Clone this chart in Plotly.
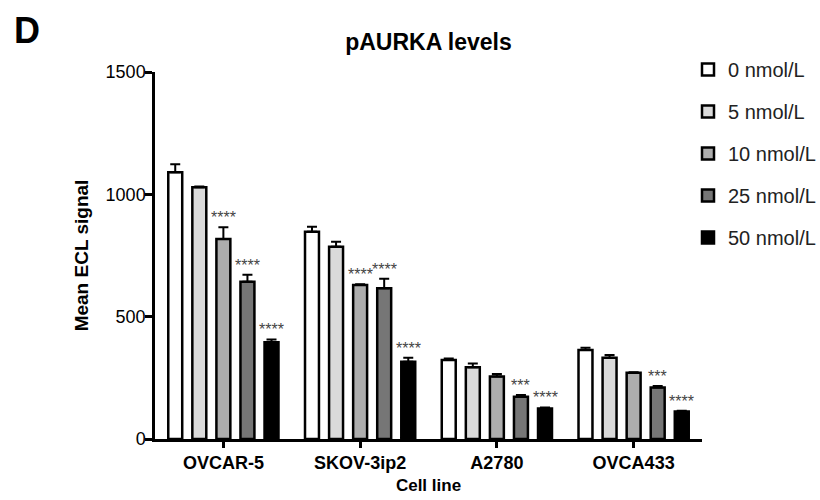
import plotly.graph_objects as go

cell_lines = ["OVCAR-5", "SKOV-3ip2", "A2780", "OVCA433"]
doses = ["0 nmol/L", "5 nmol/L", "10 nmol/L", "25 nmol/L", "50 nmol/L"]

mean_0 = [1090, 847, 323, 364]
mean_5 = [1029, 786, 293, 332]
mean_10 = [817, 629, 255, 271]
mean_25 = [643, 616, 173, 211]
mean_50 = [395, 316, 125, 112]

sem_0 = [33, 21, 6, 9]
sem_5 = [3, 20, 16, 11]
sem_10 = [48, 3, 11, 2]
sem_25 = [28, 39, 7, 6]
sem_50 = [12, 16, 4, 3]

stars_0 = ["", "", "", ""]
stars_5 = ["", "", "", ""]
stars_10 = ["****", "****", "", ""]
stars_25 = ["****", "****", "***", "***"]
stars_50 = ["****", "****", "****", "****"]

means = [mean_0, mean_5, mean_10, mean_25, mean_50]
sems = [sem_0, sem_5, sem_10, sem_25, sem_50]
stars = [stars_0, stars_5, stars_10, stars_25, stars_50]
colors = ["#ffffff", "#dadada", "#adadad", "#767676", "#000000"]

W, H = 820, 500
ML, MR, MT, MB = 155, 118, 72, 61
BARGAP = 0.12
GROUPGAP = 0.42
FONT = "Liberation Sans, Arial, Helvetica, sans-serif"

fig = go.Figure()
for j, d in enumerate(doses):
    fig.add_trace(go.Bar(
        x=cell_lines, y=means[j], name=d, legendgroup=d,
        marker=dict(color=colors[j], line=dict(color="black", width=2.5)),
        error_y=dict(type="data", symmetric=False, array=sems[j],
                     arrayminus=[0] * len(sems[j]), color="black",
                     thickness=2, width=5),
    ))

plot_w = W - ML - MR
cat_px = plot_w / len(cell_lines)
slot_px = cat_px * (1 - BARGAP) / len(doses)
annotations = []
for j in range(len(doses)):
    for i, c in enumerate(cell_lines):
        if stars[j][i]:
            annotations.append(dict(
                x=c, y=means[j][i] + sems[j][i], xref="x", yref="y",
                text=stars[j][i], showarrow=False, yanchor="bottom",
                xshift=(j - (len(doses) - 1) / 2) * slot_px, yshift=-1,
                font=dict(family=FONT, size=16, color="#444444")))

annotations.append(dict(
    x=(12 - ML) / plot_w, y=(H - MB - 30) / (H - MT - MB), xref="paper", yref="paper",
    text="<b>D</b>", showarrow=False, xanchor="left", yanchor="middle",
    font=dict(family=FONT, size=36, color="black")))

fig.update_layout(
    width=W, height=H,
    margin=dict(l=ML, r=MR, t=MT, b=MB, autoexpand=False),
    paper_bgcolor="white", plot_bgcolor="white",
    barmode="group", bargap=BARGAP, bargroupgap=GROUPGAP,
    font=dict(family=FONT, color="black"),
    title=dict(text="<b>pAURKA levels</b>", x=0.5, xref="paper", xanchor="center",
               y=1 - 42 / H, yanchor="middle", font=dict(size=23, color="black"),
               automargin=False),
    showlegend=True,
    legend=dict(x=(688 - ML) / plot_w, xanchor="left", y=(H - MB - 50) / (H - MT - MB),
                yanchor="top", font=dict(size=20, color="#222222"),
                tracegroupgap=13, bgcolor="rgba(0,0,0,0)"),
    annotations=annotations,
)
fig.update_xaxes(
    showline=True, linecolor="black", linewidth=2.5, ticks="outside",
    ticklen=6, tickwidth=2.5, tickcolor="black", showgrid=False, automargin=False,
    tickfont=dict(size=18, family=FONT, color="black"),
    title=dict(text="<b>Cell line</b>", font=dict(size=17), standoff=7),
    tickprefix="<b>", ticksuffix="</b>",
)
fig.update_yaxes(
    range=[0, 1500], tickvals=[0, 500, 1000, 1500], showline=True,
    linecolor="black", linewidth=2.5, ticks="outside", ticklen=7,
    tickwidth=2.5, tickcolor="black", showgrid=False, zeroline=False, automargin=False,
    tickfont=dict(size=18, family=FONT, color="black"), ticklabelstandoff=-4,
    tickprefix="<b>", ticksuffix="</b>",
    title=dict(text="<b>Mean ECL signal</b>", font=dict(size=19), standoff=12),
)

fig.write_html("out.html", config={"displayModeBar": False},
               post_script="document.body.style.margin='0';document.body.style.overflow='hidden';")
